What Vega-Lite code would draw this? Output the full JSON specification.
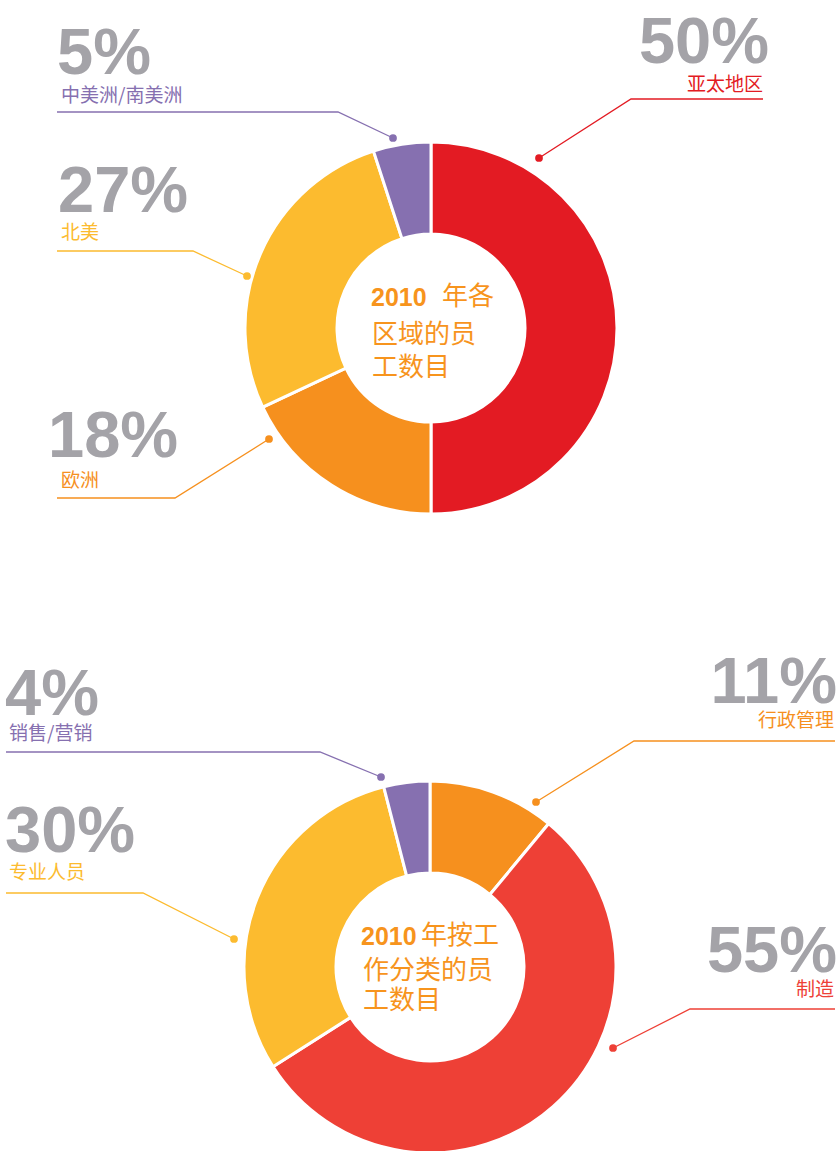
{
  "$schema": "https://vega.github.io/schema/vega-lite/v6.json",
  "width": 840,
  "height": 1151,
  "padding": 0,
  "autosize": {"type": "none"},
  "background": "white",
  "config": {"view": {"stroke": null}},
  "datasets": {
    "slices": [
      {"chart": "top", "cat": "亚太地区", "pct": 50, "order": 1},
      {"chart": "top", "cat": "欧洲", "pct": 18, "order": 2},
      {"chart": "top", "cat": "北美", "pct": 27, "order": 3},
      {"chart": "top", "cat": "中美洲/南美洲", "pct": 5, "order": 4},
      {"chart": "bottom", "cat": "行政管理", "pct": 11, "order": 1},
      {"chart": "bottom", "cat": "制造", "pct": 55, "order": 2},
      {"chart": "bottom", "cat": "专业人员", "pct": 30, "order": 3},
      {"chart": "bottom", "cat": "销售/营销", "pct": 4, "order": 4}
    ],
    "labels": [
      {"cat": "亚太地区", "pctLabel": "50%", "side": "right", "xPct": 769, "yPct": 63, "xCat": 763, "yCat": 91},
      {"cat": "中美洲/南美洲", "pctLabel": "5%", "side": "left", "xPct": 57, "yPct": 74, "xCat": 61, "yCat": 102},
      {"cat": "北美", "pctLabel": "27%", "side": "left", "xPct": 58, "yPct": 212, "xCat": 61, "yCat": 239},
      {"cat": "欧洲", "pctLabel": "18%", "side": "left", "xPct": 48, "yPct": 457, "xCat": 61, "yCat": 487},
      {"cat": "行政管理", "pctLabel": "11%", "side": "right", "xPct": 837, "yPct": 703, "xCat": 834, "yCat": 727},
      {"cat": "制造", "pctLabel": "55%", "side": "right", "xPct": 837, "yPct": 972, "xCat": 834, "yCat": 996},
      {"cat": "销售/营销", "pctLabel": "4%", "side": "left", "xPct": 5, "yPct": 715, "xCat": 9, "yCat": 740},
      {"cat": "专业人员", "pctLabel": "30%", "side": "left", "xPct": 5, "yPct": 852, "xCat": 9, "yCat": 879}
    ],
    "leaders": [
      {"cat": "亚太地区", "seq": 1, "x": 763, "y": 99},
      {"cat": "亚太地区", "seq": 2, "x": 631, "y": 99},
      {"cat": "亚太地区", "seq": 3, "x": 539, "y": 158},
      {"cat": "中美洲/南美洲", "seq": 1, "x": 57, "y": 112},
      {"cat": "中美洲/南美洲", "seq": 2, "x": 338, "y": 112},
      {"cat": "中美洲/南美洲", "seq": 3, "x": 393, "y": 138},
      {"cat": "北美", "seq": 1, "x": 57, "y": 251},
      {"cat": "北美", "seq": 2, "x": 193, "y": 251},
      {"cat": "北美", "seq": 3, "x": 247, "y": 276},
      {"cat": "欧洲", "seq": 1, "x": 57, "y": 498},
      {"cat": "欧洲", "seq": 2, "x": 175, "y": 498},
      {"cat": "欧洲", "seq": 3, "x": 269, "y": 439},
      {"cat": "行政管理", "seq": 1, "x": 835, "y": 741},
      {"cat": "行政管理", "seq": 2, "x": 634, "y": 741},
      {"cat": "行政管理", "seq": 3, "x": 536, "y": 802},
      {"cat": "制造", "seq": 1, "x": 835, "y": 1009},
      {"cat": "制造", "seq": 2, "x": 690, "y": 1009},
      {"cat": "制造", "seq": 3, "x": 613, "y": 1048},
      {"cat": "销售/营销", "seq": 1, "x": 6, "y": 752},
      {"cat": "销售/营销", "seq": 2, "x": 320, "y": 752},
      {"cat": "销售/营销", "seq": 3, "x": 381, "y": 777},
      {"cat": "专业人员", "seq": 1, "x": 6, "y": 893},
      {"cat": "专业人员", "seq": 2, "x": 143, "y": 893},
      {"cat": "专业人员", "seq": 3, "x": 234, "y": 939}
    ],
    "titles": [
      {"text": "2010", "bold": true, "x": 371, "y": 306},
      {"text": "年各", "bold": false, "x": 442, "y": 305},
      {"text": "区域的员", "bold": false, "x": 372, "y": 343},
      {"text": "工数目", "bold": false, "x": 372, "y": 376},
      {"text": "2010", "bold": true, "x": 361, "y": 945},
      {"text": "年按工", "bold": false, "x": 421, "y": 944},
      {"text": "作分类的员", "bold": false, "x": 363, "y": 979},
      {"text": "工数目", "bold": false, "x": 363, "y": 1009}
    ]
  },
  "layer": [
    {
      "data": {"name": "slices"},
      "transform": [{"filter": "datum.chart === 'top'"}],
      "mark": {"type": "arc", "innerRadius": 94, "outerRadius": 186, "stroke": "white", "strokeWidth": 3},
      "encoding": {
        "x": {"datum": 431, "type": "quantitative", "scale": {"domain": [0, 840], "nice": false, "zero": false}, "axis": null},
        "y": {"datum": 328, "type": "quantitative", "scale": {"domain": [0, 1151], "nice": false, "zero": false, "reverse": true}, "axis": null},
        "theta": {"field": "pct", "type": "quantitative", "stack": true},
        "order": {"field": "order", "type": "quantitative"},
        "color": {
          "field": "cat", "type": "nominal", "legend": null,
          "scale": {
            "domain": ["亚太地区", "欧洲", "北美", "中美洲/南美洲", "行政管理", "制造", "专业人员", "销售/营销"],
            "range": ["#E31B23", "#F6901E", "#FCBB2F", "#8670B0", "#F6901E", "#EE4036", "#FCBB2F", "#8670B0"]
          }
        }
      }
    },
    {
      "data": {"name": "slices"},
      "transform": [{"filter": "datum.chart === 'bottom'"}],
      "mark": {"type": "arc", "innerRadius": 94, "outerRadius": 186, "stroke": "white", "strokeWidth": 3},
      "encoding": {
        "x": {"datum": 430, "type": "quantitative", "axis": null},
        "y": {"datum": 967, "type": "quantitative", "axis": null},
        "theta": {"field": "pct", "type": "quantitative", "stack": true},
        "order": {"field": "order", "type": "quantitative"},
        "color": {"field": "cat", "type": "nominal", "legend": null}
      }
    },
    {
      "data": {"name": "leaders"},
      "mark": {"type": "line", "strokeWidth": 1.3, "interpolate": "linear"},
      "encoding": {
        "x": {"field": "x", "type": "quantitative", "axis": null},
        "y": {"field": "y", "type": "quantitative", "axis": null},
        "order": {"field": "seq", "type": "quantitative"},
        "detail": {"field": "cat", "type": "nominal"},
        "color": {"field": "cat", "type": "nominal", "legend": null}
      }
    },
    {
      "data": {"name": "leaders"},
      "transform": [{"filter": "datum.seq === 3"}],
      "mark": {"type": "point", "filled": true, "opacity": 1, "size": 60},
      "encoding": {
        "x": {"field": "x", "type": "quantitative", "axis": null},
        "y": {"field": "y", "type": "quantitative", "axis": null},
        "color": {"field": "cat", "type": "nominal", "legend": null}
      }
    },
    {
      "data": {"name": "labels"},
      "transform": [{"filter": "datum.side === 'left'"}],
      "mark": {"type": "text", "align": "left", "baseline": "alphabetic", "font": "Liberation Sans", "fontWeight": "bold", "fontSize": 65, "color": "#A4A3A8"},
      "encoding": {
        "x": {"field": "xPct", "type": "quantitative", "axis": null},
        "y": {"field": "yPct", "type": "quantitative", "axis": null},
        "text": {"field": "pctLabel"}
      }
    },
    {
      "data": {"name": "labels"},
      "transform": [{"filter": "datum.side === 'right'"}],
      "mark": {"type": "text", "align": "right", "baseline": "alphabetic", "font": "Liberation Sans", "fontWeight": "bold", "fontSize": 65, "color": "#A4A3A8"},
      "encoding": {
        "x": {"field": "xPct", "type": "quantitative", "axis": null},
        "y": {"field": "yPct", "type": "quantitative", "axis": null},
        "text": {"field": "pctLabel"}
      }
    },
    {
      "data": {"name": "labels"},
      "transform": [{"filter": "datum.side === 'left'"}],
      "mark": {"type": "text", "align": "left", "baseline": "alphabetic", "font": "Noto Sans CJK SC", "fontSize": 19},
      "encoding": {
        "x": {"field": "xCat", "type": "quantitative", "axis": null},
        "y": {"field": "yCat", "type": "quantitative", "axis": null},
        "text": {"field": "cat"},
        "color": {"field": "cat", "type": "nominal", "legend": null}
      }
    },
    {
      "data": {"name": "labels"},
      "transform": [{"filter": "datum.side === 'right'"}],
      "mark": {"type": "text", "align": "right", "baseline": "alphabetic", "font": "Noto Sans CJK SC", "fontSize": 19},
      "encoding": {
        "x": {"field": "xCat", "type": "quantitative", "axis": null},
        "y": {"field": "yCat", "type": "quantitative", "axis": null},
        "text": {"field": "cat"},
        "color": {"field": "cat", "type": "nominal", "legend": null}
      }
    },
    {
      "data": {"name": "titles"},
      "transform": [{"filter": "datum.bold"}],
      "mark": {"type": "text", "align": "left", "baseline": "alphabetic", "font": "Liberation Sans", "fontWeight": "bold", "fontSize": 25, "color": "#F7941D"},
      "encoding": {
        "x": {"field": "x", "type": "quantitative", "axis": null},
        "y": {"field": "y", "type": "quantitative", "axis": null},
        "text": {"field": "text"}
      }
    },
    {
      "data": {"name": "titles"},
      "transform": [{"filter": "!datum.bold"}],
      "mark": {"type": "text", "align": "left", "baseline": "alphabetic", "font": "Noto Sans CJK SC", "fontSize": 26, "color": "#F7941D"},
      "encoding": {
        "x": {"field": "x", "type": "quantitative", "axis": null},
        "y": {"field": "y", "type": "quantitative", "axis": null},
        "text": {"field": "text"}
      }
    }
  ],
  "resolve": {"scale": {"color": "shared", "x": "shared", "y": "shared"}},
  "encoding": {}
}
